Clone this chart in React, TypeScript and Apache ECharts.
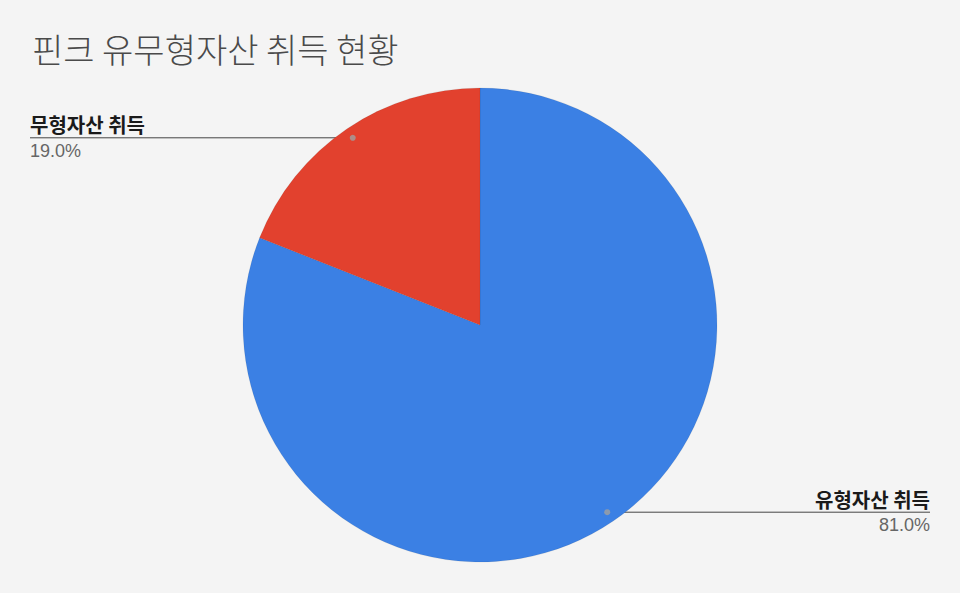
import { useEffect, useRef } from 'react';
import * as echarts from 'echarts';

const TITLE = '핀크 유무형자산 취득 현황';
const CATEGORIES = ['유형자산 취득', '무형자산 취득'];
const VALUES = [81.0, 19.0];
const COLORS = ['#3b80e4', '#e2412e'];

const CENTER_Y = 325;
const RADIUS = 237;
const EDGE = 30;

export default function App() {
  const ref = useRef<HTMLDivElement | null>(null);

  useEffect(() => {
    document.body.style.margin = '0';
    if (!ref.current) return;
    const chart = echarts.init(ref.current, undefined, { renderer: 'svg' });
    const total = VALUES.reduce((a, b) => a + b, 0);

    // mid-angle of each slice, as a cumulative value for the polar dot markers
    let acc = 0;
    const mids = VALUES.map(v => {
      const m = acc + v / 2;
      acc += v;
      return m;
    });

    chart.setOption({
      animation: false,
      backgroundColor: '#f4f4f4',
      title: {
        text: TITLE,
        left: 27,
        top: 26,
        textStyle: {
          color: '#4a4a4a',
          fontSize: 34,
          fontWeight: 300,
          fontFamily: '"Noto Sans CJK KR", sans-serif',
        },
      },
      polar: { center: ['50%', CENTER_Y], radius: RADIUS },
      angleAxis: { type: 'value', min: 0, max: total, startAngle: 90, show: false },
      radiusAxis: { type: 'value', min: 0, max: 1, show: false },
      series: [
        {
          type: 'pie',
          center: ['50%', CENTER_Y],
          radius: RADIUS,
          startAngle: 90,
          clockwise: true,
          z: 1,
          itemStyle: { borderColor: 'rgba(0,0,0,0.15)', borderWidth: 0.5 },
          label: {
            show: true,
            position: 'outside',
            formatter: (p: any) => `{name|${p.name}}\n{pct|${p.percent.toFixed(1)}%}`,
            rich: {
              name: {
                fontSize: 20,
                fontWeight: 'bold',
                color: '#1a1a1a',
                lineHeight: 26,
                fontFamily: '"Noto Sans CJK KR", sans-serif',
              },
              pct: {
                fontSize: 18,
                color: '#666',
                lineHeight: 26,
                fontFamily: '"Liberation Sans", Arial, sans-serif',
              },
            },
          },
          labelLine: { show: true, lineStyle: { color: '#444', width: 1 } },
          labelLayout: (params: any) => {
            const w = chart.getWidth();
            const cx = w / 2;
            const pts = params.labelLinePoints;
            if (!pts) return {};
            const [sx, sy] = pts[0];
            const ix = cx + (sx - cx) * 0.955;
            const iy = CENTER_Y + (sy - CENTER_Y) * 0.955;
            const left = sx < cx;
            const ex = left ? EDGE : w - EDGE;
            return {
              x: ex,
              y: iy,
              align: left ? 'left' : 'right',
              verticalAlign: 'middle',
              labelLinePoints: [
                [ix, iy],
                [ix, iy],
                [ex, iy],
              ],
            };
          },
          data: CATEGORIES.map((name, i) => ({
            name,
            value: VALUES[i],
            itemStyle: { color: COLORS[i] },
          })),
        },
        {
          type: 'scatter',
          coordinateSystem: 'polar',
          symbolSize: 6,
          z: 5,
          itemStyle: { color: '#a0a0a0' },
          silent: true,
          data: mids.map(m => [0.955, m]),
        },
      ],
    });

    const handleResize = () => chart.resize();
    window.addEventListener('resize', handleResize);
    return () => {
      window.removeEventListener('resize', handleResize);
      chart.dispose();
    };
  }, []);

  return <div ref={ref} style={{ width: 960, height: 593 }} />;
}
